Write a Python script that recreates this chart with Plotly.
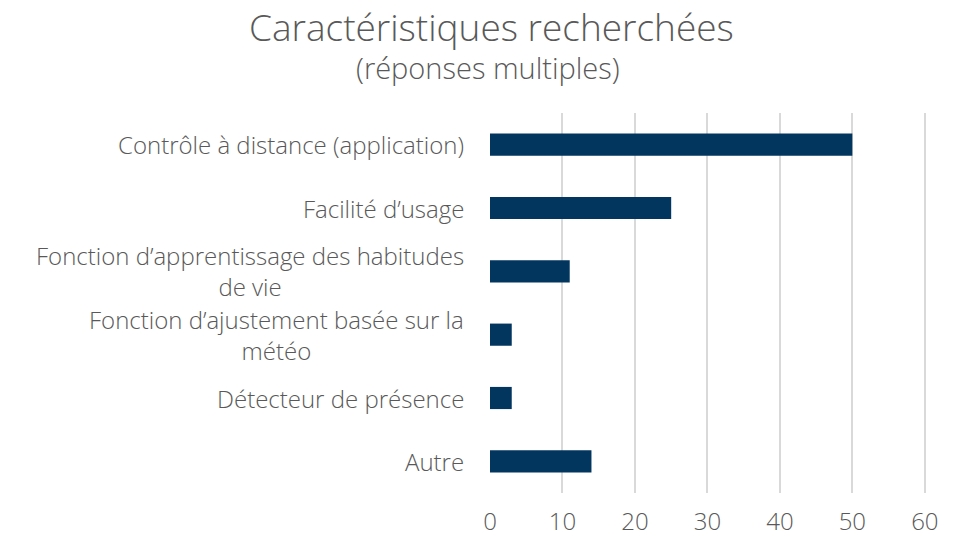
import plotly.graph_objects as go

categories = [
    "Contrôle à distance (application)",
    "Facilité d’usage",
    "Fonction d’apprentissage des habitudes<br>de vie",
    "Fonction d’ajustement basée sur la<br>météo",
    "Détecteur de présence",
    "Autre",
]
values = [50, 25, 11, 3, 3, 14]
x_ticks = [0, 10, 20, 30, 40, 50, 60]

FONT = "Open Sans"
GREY = "#595959"
# page is rendered with an 8px body margin -> work in figure coordinates
OFF = 8
W, H = 967 - OFF, 536 - OFF
PLOT_LEFT, PLOT_RIGHT = 490 - OFF, 927 - OFF
PLOT_TOP, PLOT_BOTTOM = 113 - OFF, 493 - OFF

fig = go.Figure()
fig.add_trace(go.Bar(
    x=values,
    y=categories,
    orientation="h",
    marker=dict(color="#03365f", line=dict(width=0)),
    width=0.35,
    hoverinfo="x+y",
))

for c in categories:
    fig.add_annotation(
        x=0, xref="paper", y=c, yref="y",
        text=c, showarrow=False, xanchor="right", yanchor="middle",
        align="center", xshift=-24,
        font=dict(family=FONT, size=24, color=GREY, weight=300),
    )

def py(pix):
    return (PLOT_BOTTOM - (pix - OFF)) / (PLOT_BOTTOM - PLOT_TOP)

def px(pix):
    return ((pix - OFF) - PLOT_LEFT) / (PLOT_RIGHT - PLOT_LEFT)

fig.add_annotation(
    x=px(491), xref="paper", xanchor="center", y=py(27), yref="paper", yanchor="middle",
    text="Caractéristiques recherchées", showarrow=False,
    font=dict(family=FONT, size=37, color=GREY, weight=300),
)
fig.add_annotation(
    x=px(488), xref="paper", xanchor="center", y=py(67), yref="paper", yanchor="middle",
    text="(réponses multiples)", showarrow=False,
    font=dict(family=FONT, size=29, color=GREY, weight=300),
)

fig.update_layout(
    width=W, height=H,
    margin=dict(l=PLOT_LEFT, r=W - PLOT_RIGHT, t=PLOT_TOP, b=H - PLOT_BOTTOM, autoexpand=False),
    paper_bgcolor="white", plot_bgcolor="white",
    showlegend=False,
    font=dict(family=FONT, color=GREY, size=22),
    xaxis=dict(
        range=[0, 60.3], tickvals=x_ticks, showgrid=True,
        gridcolor="#d9d9d9", gridwidth=1.5, zeroline=False,
        showline=False, ticks="", automargin=False, ticklabelstandoff=12,
        tickfont=dict(family=FONT, size=24, color=GREY, weight=300),
    ),
    yaxis=dict(
        autorange="reversed", showticklabels=False, showgrid=False,
        zeroline=False, showline=False, ticks="", automargin=False,
    ),
)

fig.write_html("out.html")
